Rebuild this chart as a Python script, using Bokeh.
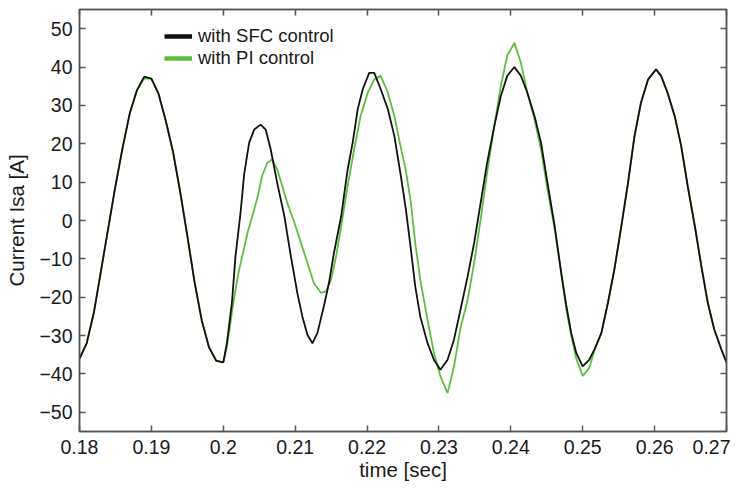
from bokeh.plotting import figure
from bokeh.models import (Range1d, LinearAxis, FixedTicker, CustomJSTickFormatter,
                          Legend, LegendItem)
from bokeh.embed import file_html
from bokeh.resources import INLINE

# ---- data ----
time_sfc = [0.1800, 0.1810, 0.1820, 0.1830, 0.1840, 0.1850, 0.1860, 0.1870, 0.1880, 0.1890,
            0.1900, 0.1910, 0.1920, 0.1930, 0.1940, 0.1950, 0.1960, 0.1970, 0.1980, 0.1990,
            0.2000, 0.2005, 0.2012, 0.2017, 0.2024, 0.2029, 0.2036, 0.2043, 0.2052, 0.2059,
            0.2066, 0.2075, 0.2085, 0.2094, 0.2103, 0.2110, 0.2117, 0.2124, 0.2131, 0.2140,
            0.2147, 0.2154, 0.2164, 0.2173, 0.2180, 0.2187, 0.2194, 0.2203, 0.2210, 0.2219,
            0.2229, 0.2238, 0.2247, 0.2254, 0.2261, 0.2267, 0.2274, 0.2284, 0.2293, 0.2302,
            0.2312, 0.2321, 0.2330, 0.2340, 0.2349, 0.2358, 0.2367, 0.2377, 0.2386, 0.2395,
            0.2405, 0.2414, 0.2423, 0.2433, 0.2442, 0.2451, 0.2461, 0.2470, 0.2477, 0.2484,
            0.2491, 0.2500, 0.2509, 0.2516, 0.2526, 0.2535, 0.2544, 0.2553, 0.2563, 0.2572,
            0.2581, 0.2591, 0.2602, 0.2609, 0.2618, 0.2628, 0.2637, 0.2646, 0.2656, 0.2665,
            0.2674, 0.2683, 0.2693, 0.2700]
isa_sfc = [-36.0, -32.0, -24.0, -13.0, -2.0, 9.0, 19.0, 28.0, 34.0, 37.5,
           37.0, 33.0, 26.0, 18.0, 7.5, -4.0, -16.0, -26.0, -33.0, -36.5,
           -37.0, -32.0, -21.5, -9.3, 2.0, 12.0, 20.3, 23.7, 25.0, 23.7,
           18.5, 9.8, 1.1, -9.3, -18.9, -25.0, -29.8, -32.0, -29.3, -22.3,
           -16.3, -8.4, 1.1, 13.3, 20.3, 29.0, 34.2, 38.5, 38.5, 34.2,
           29.0, 22.0, 11.6, 2.9, -7.6, -17.1, -25.0, -31.9, -36.3, -38.9,
           -36.3, -31.0, -23.2, -14.5, -5.8, 4.6, 15.0, 24.6, 32.4, 37.7,
           40.0, 37.7, 33.3, 27.2, 20.3, 9.8, -1.5, -13.5, -22.0, -29.3,
           -34.5, -38.0, -36.3, -33.7, -29.3, -21.5, -12.8, -2.3, 9.8, 22.0,
           30.7, 36.8, 39.4, 37.7, 33.3, 27.2, 19.4, 9.0, -1.5, -11.9,
           -21.5, -28.4, -33.7, -37.0]

time_pi = [0.1800, 0.1810, 0.1820, 0.1830, 0.1840, 0.1850, 0.1860, 0.1870, 0.1880, 0.1890,
           0.1900, 0.1910, 0.1920, 0.1930, 0.1940, 0.1950, 0.1960, 0.1970, 0.1980, 0.1990,
           0.2000, 0.2005, 0.2009, 0.2014, 0.2021, 0.2028, 0.2034, 0.2041, 0.2048, 0.2054,
           0.2061, 0.2068, 0.2075, 0.2082, 0.2089, 0.2099, 0.2108, 0.2117, 0.2126, 0.2136,
           0.2143, 0.2150, 0.2157, 0.2164, 0.2173, 0.2182, 0.2191, 0.2201, 0.2210, 0.2219,
           0.2229, 0.2238, 0.2247, 0.2254, 0.2261, 0.2267, 0.2274, 0.2284, 0.2293, 0.2302,
           0.2312, 0.2321, 0.2330, 0.2340, 0.2349, 0.2358, 0.2367, 0.2377, 0.2386, 0.2395,
           0.2405, 0.2414, 0.2423, 0.2433, 0.2442, 0.2451, 0.2461, 0.2470, 0.2477, 0.2484,
           0.2491, 0.2500, 0.2509, 0.2516, 0.2526, 0.2535, 0.2544, 0.2553, 0.2563, 0.2572,
           0.2581, 0.2591, 0.2602, 0.2609, 0.2618, 0.2628, 0.2637, 0.2646, 0.2656, 0.2665,
           0.2674, 0.2683, 0.2693, 0.2700]
isa_pi = [-36.0, -32.0, -24.0, -13.0, -2.0, 9.0, 19.0, 28.0, 34.0, 37.0,
          37.0, 33.0, 26.0, 18.0, 7.5, -4.0, -16.0, -26.0, -33.0, -36.5,
          -37.0, -33.0, -28.0, -21.5, -13.7, -8.0, -3.0, 1.5, 6.3, 11.6,
          15.0, 15.9, 13.3, 9.0, 4.6, -0.6, -5.8, -11.0, -16.3, -18.9,
          -18.4, -15.4, -9.3, -1.5, 9.0, 18.5, 27.2, 33.3, 36.8, 37.7,
          33.3, 27.2, 19.0, 13.0, 4.6, -5.8, -15.4, -25.8, -34.5, -40.6,
          -45.0, -38.0, -28.0, -20.6, -11.0, 0.3, 12.4, 24.6, 35.0, 43.0,
          46.3, 41.1, 33.3, 26.3, 18.5, 8.1, -2.3, -13.7, -23.0, -30.0,
          -36.0, -40.5, -38.5, -34.0, -29.3, -21.5, -12.8, -2.3, 9.8, 22.0,
          30.7, 36.8, 39.4, 37.7, 33.3, 27.2, 19.4, 9.0, -1.5, -11.9,
          -21.5, -28.4, -33.7, -37.0]

x_ticks = [0.18, 0.19, 0.20, 0.21, 0.22, 0.23, 0.24, 0.25, 0.26, 0.27]
y_ticks = [-50, -40, -30, -20, -10, 0, 10, 20, 30, 40, 50]
series_labels = ["with SFC control", "with PI control"]

FONT = "Liberation Sans"
TXT = "#1a1a1a"
FRAME = "#555555"
BLACK = "#111111"
GREEN = "#5cbf3c"

p = figure(width=730, height=484, output_backend="svg", toolbar_location=None,
           x_range=Range1d(0.18, 0.27), y_range=Range1d(-55, 55),
           x_axis_location=None, y_axis_location=None,
           min_border_left=79, min_border_right=4, min_border_top=9,
           min_border_bottom=53)
p.grid.visible = False
p.background_fill_color = "white"
p.border_fill_color = "white"
p.outline_line_color = FRAME
p.outline_line_width = 1.5

xfmt = CustomJSTickFormatter(code="return Number(tick.toFixed(2)).toString();")
yfmt = CustomJSTickFormatter(code="const v = Math.round(tick); return v < 0 ? '\u2212' + (-v) : String(v);")
blank = CustomJSTickFormatter(code="return '';")

bottom = LinearAxis(ticker=FixedTicker(ticks=x_ticks, minor_ticks=[]), formatter=xfmt,
                    axis_label="time [sec]")
left = LinearAxis(ticker=FixedTicker(ticks=y_ticks, minor_ticks=[]), formatter=yfmt,
                  axis_label="Current Isa [A]")
top = LinearAxis(ticker=FixedTicker(ticks=x_ticks, minor_ticks=[]), formatter=blank)
right = LinearAxis(ticker=FixedTicker(ticks=y_ticks, minor_ticks=[]), formatter=blank)
p.add_layout(bottom, "below")
p.add_layout(left, "left")
p.add_layout(top, "above")
p.add_layout(right, "right")

for ax in (bottom, left, top, right):
    ax.axis_line_color = FRAME
    ax.axis_line_width = 1.5
    ax.major_tick_line_color = FRAME
    ax.major_tick_line_width = 1.5
    ax.major_tick_in = 6
    ax.major_tick_out = 0
    ax.minor_tick_line_color = None

for ax in (top, right):
    ax.major_label_standoff = 0
    ax.major_label_text_font_size = "1px"

for ax in (bottom, left):
    ax.major_label_text_font = FONT
    ax.major_label_text_font_size = "19.5px"
    ax.major_label_text_color = TXT
    ax.axis_label_text_font = FONT
    ax.axis_label_text_font_size = "20.5px"
    ax.axis_label_text_font_style = "normal"
    ax.axis_label_text_color = TXT

bottom.major_label_standoff = 8
bottom.axis_label_standoff = 1
left.major_label_standoff = 7
left.axis_label_standoff = 8

p.line(time_pi, isa_pi, line_color=GREEN, line_width=1.8)
p.line(time_sfc, isa_sfc, line_color=BLACK, line_width=1.8)

nan = [float("nan")]
leg_sfc = p.line(nan, nan, line_color=BLACK, line_width=4.5)
leg_pi = p.line(nan, nan, line_color=GREEN, line_width=4.5)

legend = Legend(items=[LegendItem(label=series_labels[0], renderers=[leg_sfc]),
                       LegendItem(label=series_labels[1], renderers=[leg_pi])],
                location=(85, 362), padding=0, margin=0, spacing=0,
                glyph_width=28, glyph_height=22, label_standoff=6,
                border_line_color=None, background_fill_alpha=0,
                label_text_font=FONT, label_text_font_size="18.5px",
                label_text_color=TXT)
p.add_layout(legend, "center")

open("out.html", "w").write(file_html(p, INLINE))
